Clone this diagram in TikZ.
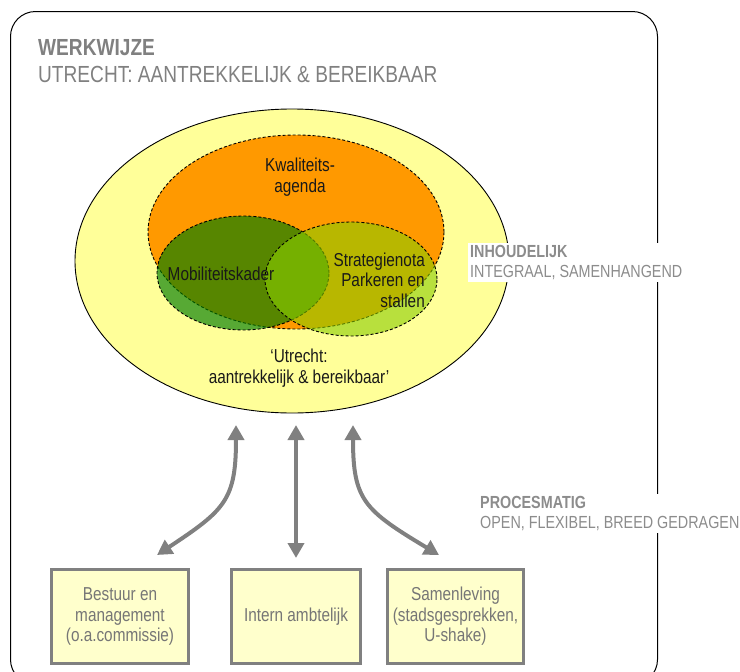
\documentclass[tikz,border=0pt]{standalone}
\usepackage{fontspec}
\setmainfont[FakeStretch=0.82]{Liberation Sans}
\usetikzlibrary{shapes.geometric,arrows.meta}
\definecolor{yel}{RGB}{255,255,153}
\definecolor{orng}{RGB}{255,153,0}
\definecolor{dgreen}{RGB}{0,125,0}
\definecolor{lgreen}{RGB}{137,204,0}
\definecolor{titlegray}{RGB}{128,128,128}
\definecolor{labgray}{RGB}{140,140,140}
\definecolor{boxfill}{RGB}{255,255,204}
\definecolor{boxline}{RGB}{128,128,128}
\definecolor{boxtext}{RGB}{118,118,118}
\definecolor{arrgray}{RGB}{128,128,128}
\begin{document}
\begin{tikzpicture}[x=1pt,y=-1pt,
  venn/.style={ellipse, draw=black, line width=0.9pt, dash pattern=on 3pt off 2pt, inner sep=0pt},
  vtext/.style={font=\fontsize{18.7}{20.5}\selectfont, text=black!90, inner sep=0pt, align=center},
  sidelab/.style={fill=white, inner sep=2pt, align=left, text=labgray, font=\fontsize{17.5}{20}\selectfont, anchor=north west},
  groupbox/.style={draw=boxline, line width=3pt, fill=boxfill, minimum height=94pt, inner sep=0pt, align=center, text=boxtext, font=\fontsize{18.7}{20.5}\selectfont},
  twoway/.style={draw=arrgray, line width=4pt, {Triangle[width=16pt,length=15pt]}-{Triangle[width=16pt,length=15pt]}}
]
\useasboundingbox (0,0) rectangle (740,672);
% outer frame
\node[draw=black, line width=1pt, rounded corners=25pt, minimum width=647pt, minimum height=673pt, anchor=north west, inner sep=0pt] (frame) at (10,11) {};
% titles
\node[anchor=base west, inner sep=0pt, text=titlegray, font=\fontsize{23.3}{27}\selectfont\bfseries] (t1) at (38,55) {WERKWIJZE};
\node[anchor=base west, inner sep=0pt, text=titlegray, font=\fontsize{23.3}{27}\selectfont] (t2) at (38,82) {UTRECHT: AANTREKKELIJK \& BEREIKBAAR};
% venn
\node[ellipse, draw=black, line width=0.9pt, fill=yel, minimum width=434pt, minimum height=304pt, inner sep=0pt] (utrecht) at (292,261) {};
\node[venn, fill=orng, minimum width=296pt, minimum height=194pt] (kwal) at (296,232) {};
\node[venn, fill=dgreen, fill opacity=0.66, minimum width=172pt, minimum height=114pt] (mob) at (243,273) {};
\node[venn, fill=lgreen, fill opacity=0.6, minimum width=172pt, minimum height=114pt] (strat) at (351,279) {};
\node[vtext] (kwaltxt) at (300,177) {Kwaliteits-\\agenda};
\node[vtext, anchor=base] (mobtxt) at (221,280) {Mobiliteitskader};
\node[vtext, align=right, anchor=east] (strattxt) at (425,280) {Strategienota\\Parkeren en\\stallen};
\node[vtext] (utrtxt) at (299,368) {‘Utrecht:\\aantrekkelijk \& bereikbaar’};
% side labels
\node[sidelab] (inh) at (468,243) {\textbf{INHOUDELIJK}\\INTEGRAAL, SAMENHANGEND};
\node[sidelab] (proc) at (478,494) {\textbf{PROCESMATIG}\\OPEN, FLEXIBEL, BREED GEDRAGEN};
% boxes
\node[groupbox, minimum width=137pt] (bestuur) at (120,616.5) {Bestuur en\\management\\(o.a.commissie)};
\node[groupbox, minimum width=129pt] (intern) at (296,616.5) {Intern ambtelijk};
\node[groupbox, minimum width=136pt] (samen) at (455.5,616.5) {Samenleving\\(stadsgesprekken,\\U-shake)};
% arrows
\coordinate (a1) at (236,425);
\coordinate (a2) at (296,425);
\coordinate (a3) at (353,425);
\coordinate (b1) at (157,555);
\coordinate (b2) at (296,558);
\coordinate (b3) at (439,555);
\draw[twoway] (a1) .. controls (236,500) and (225,510) .. (b1);
\draw[twoway] (a2) -- (b2);
\draw[twoway] (a3) .. controls (353,500) and (364,510) .. (b3);
\end{tikzpicture}
\end{document}
